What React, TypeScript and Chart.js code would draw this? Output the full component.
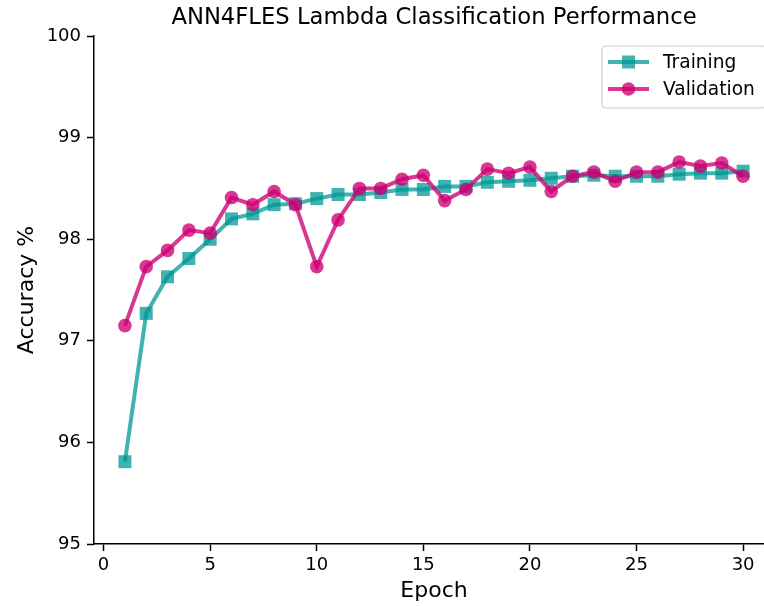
import React, { useEffect, useRef } from "react";
import { Chart, registerables } from "chart.js";

Chart.register(...registerables);

const epochs = [1, 2, 3, 4, 5, 6, 7, 8, 9, 10, 11, 12, 13, 14, 15, 16, 17, 18, 19, 20, 21, 22, 23, 24, 25, 26, 27, 28, 29, 30];
const training = [95.81, 97.27, 97.63, 97.81, 98.0, 98.2, 98.25, 98.34, 98.35, 98.4, 98.44, 98.44, 98.46, 98.49, 98.49, 98.52, 98.52, 98.56, 98.57, 98.58, 98.6, 98.62, 98.63, 98.62, 98.62, 98.62, 98.64, 98.65, 98.65, 98.67];
const validation = [97.15, 97.73, 97.89, 98.09, 98.06, 98.41, 98.34, 98.47, 98.34, 97.73, 98.19, 98.5, 98.5, 98.59, 98.63, 98.38, 98.49, 98.69, 98.65, 98.71, 98.47, 98.62, 98.66, 98.57, 98.66, 98.66, 98.76, 98.72, 98.75, 98.62];
const yTicks = [95, 96, 97, 98, 99, 100];
const xTicks = [0, 5, 10, 15, 20, 25, 30];

const TEAL = "rgba(0,152,150,0.75)";
const MAGENTA = "rgba(205,0,115,0.78)";
const FONT = "'DejaVu Sans', sans-serif";
const CANVAS_W = 774;
const CANVAS_H = 606;

const legendPlugin = {
  id: "customLegend",
  afterDraw(chart: any) {
    const ctx = chart.ctx;
    ctx.save();
    const bx = 602, by = 46, bw = 164, bh = 62, r = 4;
    ctx.beginPath();
    ctx.moveTo(bx + r, by);
    ctx.lineTo(bx + bw - r, by);
    ctx.arcTo(bx + bw, by, bx + bw, by + r, r);
    ctx.lineTo(bx + bw, by + bh - r);
    ctx.arcTo(bx + bw, by + bh, bx + bw - r, by + bh, r);
    ctx.lineTo(bx + r, by + bh);
    ctx.arcTo(bx, by + bh, bx, by + bh - r, r);
    ctx.lineTo(bx, by + r);
    ctx.arcTo(bx, by, bx + r, by, r);
    ctx.closePath();
    ctx.fillStyle = "rgba(255,255,255,0.8)";
    ctx.fill();
    ctx.strokeStyle = "#cccccc";
    ctx.lineWidth = 1.2;
    ctx.stroke();

    const items = [
      { label: chart.data.datasets[0].label, color: TEAL, style: "rect", y: 62 },
      { label: chart.data.datasets[1].label, color: MAGENTA, style: "circle", y: 89 },
    ];
    for (const it of items) {
      ctx.strokeStyle = it.color;
      ctx.lineWidth = 4;
      ctx.beginPath();
      ctx.moveTo(608, it.y);
      ctx.lineTo(649, it.y);
      ctx.stroke();
      ctx.fillStyle = it.color;
      ctx.beginPath();
      if (it.style === "rect") {
        ctx.rect(628.5 - 6.5, it.y - 6.5, 13, 13);
      } else {
        ctx.arc(628.5, it.y, 6.8, 0, Math.PI * 2);
      }
      ctx.fill();
      ctx.fillStyle = "#000";
      ctx.font = `18.6px ${FONT}`;
      ctx.textBaseline = "middle";
      ctx.textAlign = "left";
      ctx.fillText(it.label, 663, it.y + 1);
    }
    ctx.restore();
  },
};

export default function App() {
  const ref = useRef<HTMLCanvasElement>(null);
  useEffect(() => {
    document.documentElement.style.overflow = "hidden";
    document.body.style.overflow = "hidden";
    if (!ref.current) return;
    const chart = new Chart(ref.current, {
      type: "line",
      data: {
        datasets: [
          {
            label: "Training",
            data: epochs.map((e, i) => ({ x: e, y: training[i] })),
            borderColor: TEAL,
            backgroundColor: TEAL,
            borderWidth: 4,
            pointStyle: "rect",
            pointRadius: 6.5 * Math.SQRT2,
            pointBorderWidth: 0,
            tension: 0,
            order: 2,
          },
          {
            label: "Validation",
            data: epochs.map((e, i) => ({ x: e, y: validation[i] })),
            borderColor: MAGENTA,
            backgroundColor: MAGENTA,
            borderWidth: 4,
            pointStyle: "circle",
            pointRadius: 6.8,
            pointBorderWidth: 0,
            tension: 0,
            order: 1,
          },
        ],
      },
      options: {
        animation: false,
        responsive: false,
        devicePixelRatio: 1,
        layout: { autoPadding: false, padding: { left: 0, right: 0, top: 0, bottom: 0 } },
        plugins: {
          legend: { display: false },
          tooltip: { enabled: false },
          title: {
            display: true,
            fullSize: false,
            text: "ANN4FLES Lambda Classification Performance",
            color: "#000",
            font: { family: FONT, size: 22.7, weight: "normal", lineHeight: 1.2 },
            padding: { top: 4, bottom: 4.8 },
          },
        },
        scales: {
          x: {
            type: "linear",
            min: -0.45,
            max: 31.45,
            afterFit: (s: any) => { s.height = 62; s.paddingLeft = 0; s.paddingRight = 0; },
            afterBuildTicks: (s: any) => { s.ticks = xTicks.map((v) => ({ value: v })); },
            ticks: {
              includeBounds: false,
              color: "#000",
              font: { family: FONT, size: 18 },
              padding: 4,
              maxRotation: 0,
              autoSkip: false,
            },
            grid: { drawOnChartArea: false, drawTicks: true, tickLength: 7, tickWidth: 1.5, tickColor: "#000" },
            border: { display: true, color: "#000", width: 1.5 },
            title: {
              display: true,
              text: "Epoch",
              color: "#000",
              font: { family: FONT, size: 22, lineHeight: 1.2 },
              padding: { top: 0, bottom: 1.2 },
            },
          },
          y: {
            type: "linear",
            min: 95,
            max: 100,
            afterFit: (s: any) => { s.width = 94; s.paddingTop = 0; s.paddingBottom = 0; },
            afterBuildTicks: (s: any) => { s.ticks = yTicks.map((v) => ({ value: v })); },
            ticks: {
              color: "#000",
              font: { family: FONT, size: 18 },
              padding: 6,
              autoSkip: false,
            },
            grid: { drawOnChartArea: false, drawTicks: true, tickLength: 7, tickWidth: 1.5, tickColor: "#000" },
            border: { display: true, color: "#000", width: 1.5 },
            title: {
              display: true,
              text: "Accuracy %",
              color: "#000",
              font: { family: FONT, size: 22, lineHeight: 1.2 },
              padding: { top: 14, bottom: 0 },
            },
          },
        },
      },
      plugins: [legendPlugin],
    });
    return () => chart.destroy();
  }, []);
  return (
    <canvas
      ref={ref}
      width={CANVAS_W}
      height={CANVAS_H}
      style={{ position: "absolute", left: 0, top: 0, width: CANVAS_W, height: CANVAS_H }}
    />
  );
}
